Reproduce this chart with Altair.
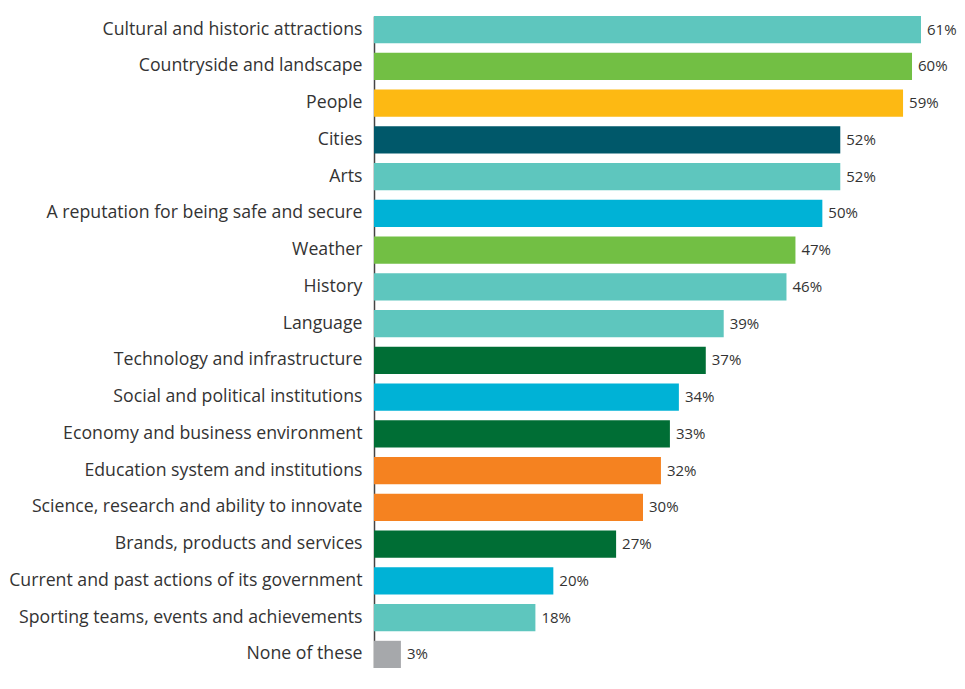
import altair as alt
import pandas as pd

categories = [
    "Cultural and historic attractions",
    "Countryside and landscape",
    "People",
    "Cities",
    "Arts",
    "A reputation for being safe and secure",
    "Weather",
    "History",
    "Language",
    "Technology and infrastructure",
    "Social and political institutions",
    "Economy and business environment",
    "Education system and institutions",
    "Science, research and ability to innovate",
    "Brands, products and services",
    "Current and past actions of its government",
    "Sporting teams, events and achievements",
    "None of these",
]
values = [61, 60, 59, 52, 52, 50, 47, 46, 39, 37, 34, 33, 32, 30, 27, 20, 18, 3]
colors = [
    "#5EC6BE", "#72BF44", "#FDB913", "#00586A", "#5EC6BE", "#00B2D6",
    "#72BF44", "#5EC6BE", "#5EC6BE", "#006E35", "#00B2D6", "#006E35",
    "#F58220", "#F58220", "#006E35", "#00B2D6", "#5EC6BE", "#A6A8AB",
]

df = pd.DataFrame({"cat": categories, "val": values, "color": colors})
df["label"] = df["val"].astype(str) + "%"

FONT = "Open Sans"

y = alt.Y("cat:N", sort=categories, title=None,
          scale=alt.Scale(paddingInner=0.26, paddingOuter=0),
          axis=alt.Axis(labelFontSize=17.7, labelColor="#333333", labelFont=FONT,
                        labelPadding=12, ticks=False, domainColor="#444444",
                        domainWidth=1.5, labelLimit=400))
x = alt.X("val:Q", scale=alt.Scale(domain=[0, 63.79], nice=False), axis=None)

bars = alt.Chart(df).mark_bar().encode(
    y=y, x=x, color=alt.Color("color:N", scale=None)
)
text = alt.Chart(df).mark_text(align="left", dx=6, fontSize=15, font=FONT,
                               color="#333333").encode(
    y=alt.Y("cat:N", sort=categories), x="val:Q", text="label:N"
)

chart = (bars + text).properties(
    width=572, height=652,
    padding={"left": 0, "top": 8, "right": 0, "bottom": 0},
).configure(background="white").configure_view(stroke=None)

chart.save("out.html", embed_options={"renderer": "svg", "actions": False})
